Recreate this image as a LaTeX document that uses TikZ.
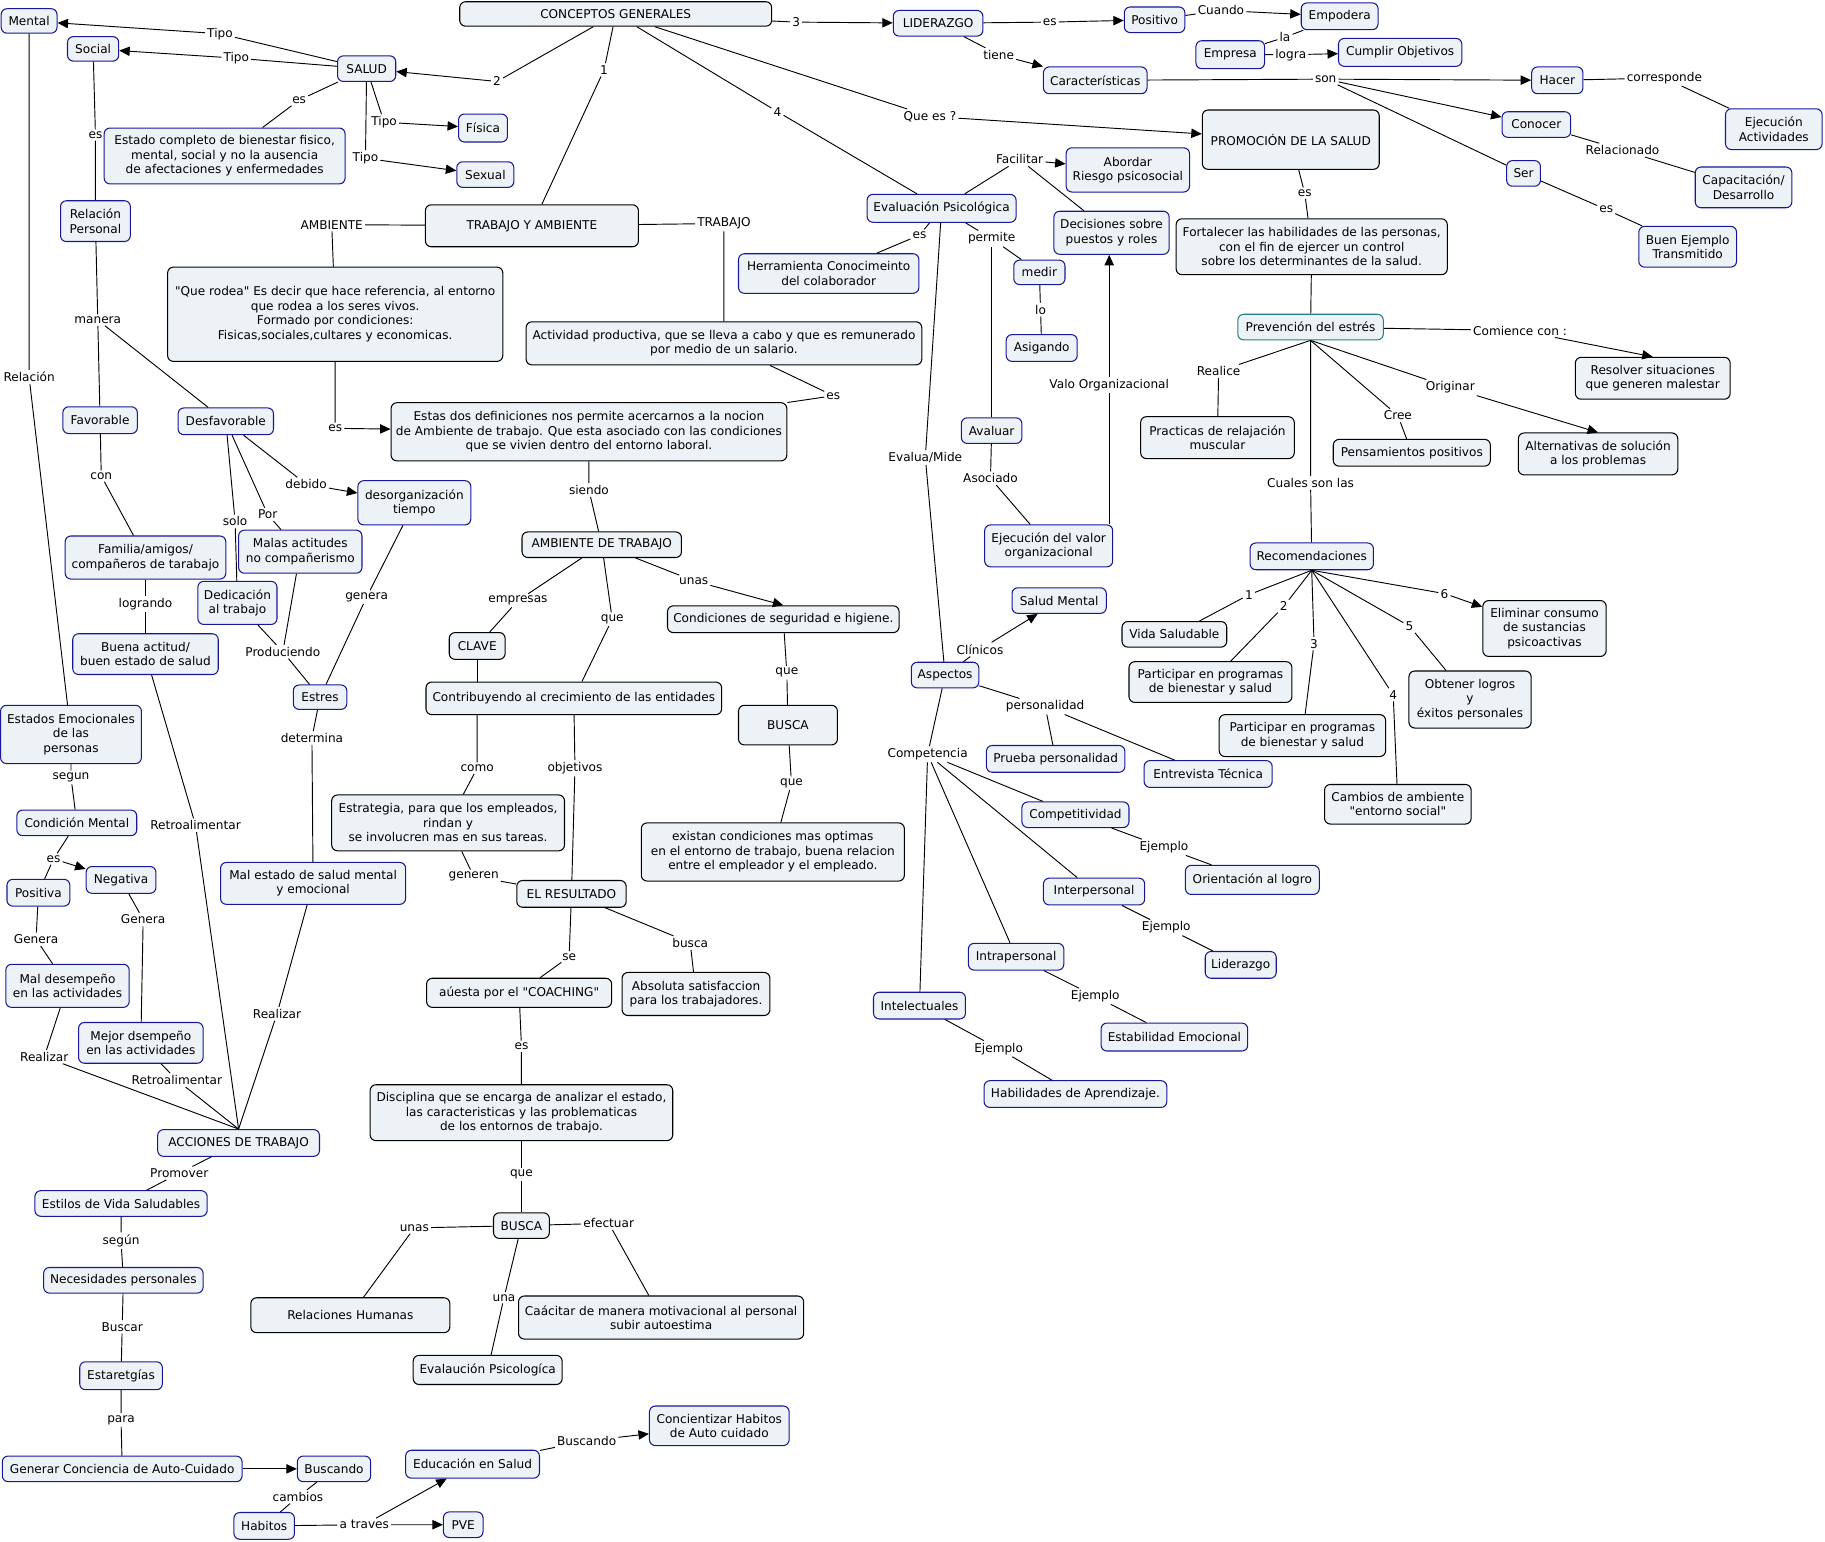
\documentclass[tikz,border=0pt]{standalone}
\usepackage{fontspec}
\setmainfont{DejaVu Sans}[Ligatures=TeXOff]
\usetikzlibrary{arrows.meta}
\definecolor{cmapfill}{RGB}{236,242,246}
\definecolor{cmapblue}{RGB}{24,24,150}
\definecolor{cmapteal}{RGB}{38,128,128}
\begin{document}
\begin{tikzpicture}[x=1pt,y=-1pt,>={Triangle[length=9pt,width=8pt]},line width=0.8pt,
font=\fontsize{10.4}{12.4}\selectfont,
cb/.style={draw=cmapblue,fill=cmapfill,rounded corners=5pt,line width=0.9pt,align=center,inner xsep=3pt,inner ysep=2pt},
ck/.style={cb,draw=black},
ct/.style={cb,draw=cmapteal},
lk/.style={inner sep=1.5pt},
sz/.style 2 args={minimum width=#1pt,minimum height=#2pt}]
\useasboundingbox (0,0) rectangle (1568,1324);
\node[cb,sz={48}{21}] (mental) at (25,18) {Mental};
\node[cb,sz={44}{21}] (social) at (80,42) {Social};
\node[cb,sz={50}{22}] (salud) at (315,59) {SALUD};
\node[cb,sz={207}{48}] (estado) at (193,134) {Estado completo de bienestar fisico,\\mental, social y no la ausencia\\de afectaciones y enfermedades};
\node[cb,sz={42}{24}] (fisica) at (415,110) {Física};
\node[cb,sz={49}{22}] (sexual) at (417,150) {Sexual};
\node[ck,sz={268}{21}] (concgen) at (529,12) {CONCEPTOS GENERALES};
\node[cb,sz={77}{22}] (liderazgo) at (806,20) {LIDERAZGO};
\node[cb,sz={52}{22}] (positivo) at (992,17) {Positivo};
\node[cb,sz={66}{23}] (empodera) at (1151,14) {Empodera};
\node[cb,sz={59}{24}] (empresa) at (1057,47) {Empresa};
\node[cb,sz={106}{24}] (cumplir) at (1203,45) {Cumplir Objetivos};
\node[cb,sz={89}{23}] (caract) at (941,69) {Características};
\node[cb,sz={44}{23}] (hacer) at (1338,69) {Hacer};
\node[cb,sz={83}{35}] (ejecact) at (1524,111) {Ejecución\\Actividades};
\node[cb,sz={59}{22}] (conocer) at (1320,107) {Conocer};
\node[cb,sz={83}{35}] (capac) at (1498,161) {Capacitación/\\Desarrollo};
\node[cb,sz={29}{22}] (ser) at (1309,149) {Ser};
\node[cb,sz={84}{35}] (buenej) at (1450,212) {Buen Ejemplo\\Transmitido};
\node[ck,sz={152}{51}] (promo) at (1109,120) {PROMOCIÓN DE LA SALUD};
\node[ck,sz={233}{48}] (fortal) at (1127,212) {Fortalecer las habilidades de las personas,\\con el fin de ejercer un control\\sobre los determinantes de la salud.};
\node[ct,sz={125}{22}] (prevest) at (1126,281) {Prevención del estrés};
\node[ck,sz={133}{36}] (resolver) at (1420,325) {Resolver situaciones\\que generen malestar};
\node[ck,sz={132}{36}] (practicas) at (1046,376) {Practicas de relajación\\muscular};
\node[ck,sz={135}{23}] (pensam) at (1213,389) {Pensamientos positivos};
\node[ck,sz={137}{36}] (altern) at (1373,390) {Alternativas de solución\\a los problemas};
\node[cb,sz={106}{23}] (recom) at (1127,478) {Recomendaciones};
\node[ck,sz={90}{22}] (vida) at (1009,545) {Vida Saludable};
\node[ck,sz={140}{35}] (parta) at (1040,586) {Participar en programas\\de bienestar y salud};
\node[ck,sz={143}{36}] (partb) at (1119,632) {Participar en programas\\de bienestar y salud};
\node[ck,sz={126}{34}] (cambios) at (1201,691) {Cambios de ambiente\\"entorno social"};
\node[ck,sz={105}{49}] (obtener) at (1263,601) {Obtener logros\\y\\éxitos personales};
\node[ck,sz={106}{48}] (eliminar) at (1327,540) {Eliminar consumo\\de sustancias\\psicoactivas};
\node[cb,sz={106}{38}] (abordar) at (969,146) {Abordar\\Riesgo psicosocial};
\node[cb,sz={99}{37}] (decis) at (955,200) {Decisiones sobre\\puestos y roles};
\node[cb,sz={128}{24}] (evalps) at (809,179) {Evaluación Psicológica};
\node[cb,sz={155}{34}] (herram) at (712,235) {Herramienta Conocimeinto\\del colaborador};
\node[cb,sz={44}{21}] (medir) at (893,234) {medir};
\node[cb,sz={61}{23}] (asigando) at (895,299) {Asigando};
\node[cb,sz={52}{22}] (avaluar) at (852,370) {Avaluar};
\node[cb,sz={110}{36}] (ejecvalor) at (901,469) {Ejecución del valor\\organizacional};
\node[cb,sz={81}{22}] (saludm) at (910,516) {Salud Mental};
\node[cb,sz={58}{22}] (aspectos) at (812,580) {Aspectos};
\node[cb,sz={119}{23}] (prueba) at (907,652) {Prueba personalidad};
\node[cb,sz={110}{23}] (entrev) at (1038,665) {Entrevista Técnica};
\node[cb,sz={92}{22}] (compet) at (924,700) {Competitividad};
\node[cb,sz={115}{25}] (orient) at (1076,756) {Orientación al logro};
\node[cb,sz={87}{23}] (interp) at (940,766) {Interpersonal};
\node[cb,sz={61}{23}] (liderazgob) at (1066,829) {Liderazgo};
\node[cb,sz={82}{23}] (intrap) at (873,822) {Intrapersonal};
\node[cb,sz={126}{24}] (estab) at (1009,891) {Estabilidad Emocional};
\node[cb,sz={79}{23}] (intelec) at (790,864) {Intelectuales};
\node[cb,sz={157}{23}] (habil) at (924,940) {Habilidades de Aprendizaje.};
\node[ck,sz={183}{36}] (trabamb) at (457,194) {TRABAJO Y AMBIENTE};
\node[ck,sz={288}{81}] (querodea) at (288,270) {"Que rodea" Es decir que hace referencia, al entorno\\que rodea a los seres vivos.\\Formado por condiciones:\\Fisicas,sociales,cultares y economicas.};
\node[ck,sz={340}{37}] (actividad) at (622,295) {Actividad productiva, que se lleva a cabo y que es remunerado\\por medio de un salario.};
\node[ck,sz={340}{50}] (estasdos) at (506,371) {Estas dos definiciones nos permite acercarnos a la nocion\\de Ambiente de trabajo. Que esta asociado con las condiciones\\que se vivien dentro del entorno laboral.};
\node[ck,sz={137}{22}] (ambtrab) at (517,468) {AMBIENTE DE TRABAJO};
\node[ck,sz={199}{23}] (condic) at (673,532) {Condiciones de seguridad e higiene.};
\node[ck,sz={48}{23}] (clave) at (410,555) {CLAVE};
\node[ck,sz={254}{28}] (contrib) at (493,600) {Contribuyendo al crecimiento de las entidades};
\node[ck,sz={85}{34}] (buscaa) at (677,623) {BUSCA};
\node[ck,sz={226}{50}] (existan) at (664,732) {existan condiciones mas optimas\\en el entorno de trabajo, buena relacion\\entre el empleador y el empleado.};
\node[ck,sz={200}{48}] (estrat) at (385,707) {Estrategia, para que los empleados,\\rindan y\\se involucren mas en sus tareas.};
\node[ck,sz={94}{23}] (resultado) at (491,768) {EL RESULTADO};
\node[ck,sz={127}{37}] (absoluta) at (598,854) {Absoluta satisfaccion\\para los trabajadores.};
\node[ck,sz={159}{25}] (coaching) at (446,853) {aúesta por el "COACHING"};
\node[ck,sz={260}{48}] (disciplina) at (448,956) {Disciplina que se encarga de analizar el estado,\\las caracteristicas y las problematicas\\de los entornos de trabajo.};
\node[ck,sz={48}{22}] (buscab) at (448,1053) {BUSCA};
\node[ck,sz={171}{30}] (relhum) at (301,1130) {Relaciones Humanas};
\node[ck,sz={245}{37}] (capacitar) at (568,1132) {Caácitar de manera motivacional al personal\\subir autoestima};
\node[ck,sz={128}{25}] (evalpsb) at (419,1177) {Evalaución Psicologíca};
\node[cb,sz={60}{35}] (relpers) at (82,190) {Relación\\Personal};
\node[cb,sz={64}{23}] (favorable) at (86,361) {Favorable};
\node[cb,sz={82}{23}] (desfav) at (194,362) {Desfavorable};
\node[cb,sz={97}{38}] (desorg) at (356,432) {desorganización\\tiempo};
\node[cb,sz={138}{37}] (familia) at (125,479) {Familia/amigos/\\compañeros de tarabajo};
\node[cb,sz={106}{37}] (malas) at (258,474) {Malas actitudes\\no compañerismo};
\node[cb,sz={68}{37}] (dedic) at (204,518) {Dedicación\\al trabajo};
\node[cb,sz={125}{35}] (buenact) at (125,562) {Buena actitud/\\buen estado de salud};
\node[cb,sz={46}{21}] (estres) at (275,599) {Estres};
\node[cb,sz={121}{50}] (estados) at (61,631) {Estados Emocionales\\de las\\personas};
\node[cb,sz={103}{22}] (condmental) at (66,707) {Condición Mental};
\node[cb,sz={60}{23}] (negativa) at (104,756) {Negativa};
\node[cb,sz={54}{23}] (positiva) at (33,767) {Positiva};
\node[cb,sz={106}{37}] (maldesemp) at (58,847) {Mal desempeño\\en las actividades};
\node[cb,sz={107}{35}] (mejor) at (121,896) {Mejor dsempeño\\en las actividades};
\node[cb,sz={159}{36}] (malestado) at (269,759) {Mal estado de salud mental\\y emocional};
\node[cb,sz={139}{23}] (acciones) at (205,982) {ACCIONES DE TRABAJO};
\node[cb,sz={148}{22}] (estilos) at (104,1034) {Estilos de Vida Saludables};
\node[cb,sz={137}{22}] (necesid) at (106,1100) {Necesidades personales};
\node[cb,sz={71}{24}] (estrateg) at (104,1182) {Estaretgías};
\node[cb,sz={206}{22}] (generar) at (105,1262) {Generar Conciencia de Auto-Cuidado};
\node[cb,sz={63}{22}] (buscando) at (287,1262) {Buscando};
\node[cb,sz={52}{23}] (habitos) at (227,1311) {Habitos};
\node[cb,sz={34}{22}] (pve) at (398,1310) {PVE};
\node[cb,sz={115}{24}] (educ) at (406,1258) {Educación en Salud};
\node[cb,sz={120}{34}] (concient) at (618,1225) {Concientizar Habitos\\de Auto cuidado};
\node[lk] (ltipo1) at (189,29) {Tipo};
\node[lk] (ltipo2) at (203,50) {Tipo};
\node[lk] (les1) at (257,86) {es};
\node[lk] (ltipo3) at (330,105) {Tipo};
\node[lk] (ltipo4) at (314,136) {Tipo};
\node[lk] (ltwo) at (427,70) {2};
\node[lk] (lone) at (519,60) {1};
\node[lk] (lthree) at (684,19) {3};
\node[lk] (lfour) at (668,96) {4};
\node[lk] (lquees) at (799,100) {Que es ?};
\node[lk] (les2) at (902,19) {es};
\node[lk] (ltiene) at (858,47) {tiene};
\node[lk] (lcuando) at (1049,9) {Cuando};
\node[lk] (lla) at (1104,32) {la};
\node[lk] (llogra) at (1109,47) {logra};
\node[lk] (lson) at (1139,68) {son};
\node[lk] (lcorresp) at (1430,67) {corresponde};
\node[lk] (lrelac) at (1394,129) {Relacionado};
\node[lk] (les3) at (1380,180) {es};
\node[lk] (les4) at (1121,166) {es};
\node[lk] (lcomience) at (1306,284) {Comience con :};
\node[lk] (lrealice) at (1047,319) {Realice};
\node[lk] (lcree) at (1201,357) {Cree};
\node[lk] (loriginar) at (1246,333) {Originar};
\node[lk] (lcuales) at (1126,415) {Cuales son las};
\node[lk] (lra) at (1073,511) {1};
\node[lk] (lrb) at (1103,521) {2};
\node[lk] (lrc) at (1129,553) {3};
\node[lk] (lrd) at (1197,597) {4};
\node[lk] (lre) at (1211,538) {5};
\node[lk] (lrf) at (1241,510) {6};
\node[lk] (lfacil) at (876,137) {Facilitar};
\node[lk] (les5) at (790,202) {es};
\node[lk] (lpermite) at (852,205) {permite};
\node[lk] (llo) at (894,266) {lo};
\node[lk] (lvalo) at (953,331) {Valo Organizacional};
\node[lk] (lasoc) at (851,411) {Asociado};
\node[lk] (levalua) at (795,393) {Evalua/Mide};
\node[lk] (lclin) at (842,558) {Clínicos};
\node[lk] (lperso) at (898,607) {personalidad};
\node[lk] (lcompet) at (797,648) {Competencia};
\node[lk] (leja) at (1000,728) {Ejemplo};
\node[lk] (lejb) at (1002,797) {Ejemplo};
\node[lk] (lejc) at (941,856) {Ejemplo};
\node[lk] (lejd) at (858,901) {Ejemplo};
\node[lk] (lamb) at (285,193) {AMBIENTE};
\node[lk] (ltrab) at (622,192) {TRABAJO};
\node[lk] (les6) at (288,368) {es};
\node[lk] (les7) at (716,340) {es};
\node[lk] (lsiendo) at (506,421) {siendo};
\node[lk] (lempresas) at (445,516) {empresas};
\node[lk] (lquea) at (526,532) {que};
\node[lk] (lunasa) at (596,499) {unas};
\node[lk] (lqueb) at (676,578) {que};
\node[lk] (lquec) at (680,673) {que};
\node[lk] (lcomo) at (410,660) {como};
\node[lk] (lobjet) at (494,660) {objetivos};
\node[lk] (lgeneren) at (407,753) {generen};
\node[lk] (lse) at (489,822) {se};
\node[lk] (lbusca) at (593,810) {busca};
\node[lk] (les8) at (448,899) {es};
\node[lk] (lqued) at (448,1009) {que};
\node[lk] (lunasb) at (356,1055) {unas};
\node[lk] (luna) at (433,1115) {una};
\node[lk] (lefect) at (523,1051) {efectuar};
\node[lk] (les9) at (82,116) {es};
\node[lk] (lmanera) at (84,275) {manera};
\node[lk] (lrelacion) at (25,324) {Relación};
\node[lk] (lcon) at (87,409) {con};
\node[lk] (llogrando) at (125,519) {logrando};
\node[lk] (lsolo) at (202,448) {solo};
\node[lk] (lpor) at (230,442) {Por};
\node[lk] (ldebido) at (263,416) {debido};
\node[lk] (lproduc) at (243,560) {Produciendo};
\node[lk] (lgeneraa) at (315,513) {genera};
\node[lk] (ldetermina) at (268,634) {determina};
\node[lk] (lrealizara) at (238,871) {Realizar};
\node[lk] (lretroa) at (168,709) {Retroalimentar};
\node[lk] (lsegun) at (61,668) {segun};
\node[lk] (les10) at (46,738) {es};
\node[lk] (lgenerab) at (31,807) {Genera};
\node[lk] (lgenerac) at (123,790) {Genera};
\node[lk] (lrealizarb) at (38,908) {Realizar};
\node[lk] (lretrob) at (152,928) {Retroalimentar};
\node[lk] (lpromover) at (154,1008) {Promover};
\node[lk] (lsegunb) at (104,1066) {según};
\node[lk] (lbuscar) at (105,1140) {Buscar};
\node[lk] (lpara) at (104,1220) {para};
\node[lk] (lcambios) at (256,1286) {cambios};
\node[lk] (latraves) at (313,1310) {a traves};
\node[lk] (lbuscando) at (504,1238) {Buscando};
\draw[->] (salud) -- (ltipo1) -- (mental);
\draw[->] (salud) -- (ltipo2) -- (social);
\draw (salud) -- (les1) -- (estado);
\draw[->] (salud) -- (ltipo3) -- (fisica);
\draw[->] (salud) -- (ltipo4) -- (sexual);
\draw[->] (concgen) -- (ltwo) -- (salud);
\draw (concgen) -- (lone) -- (trabamb);
\draw[->] (concgen) -- (lthree) -- (liderazgo);
\draw (concgen) -- (lfour) -- (evalps);
\draw[->] (concgen) -- (lquees) -- (promo);
\draw[->] (liderazgo) -- (les2) -- (positivo);
\draw[->] (liderazgo) -- (ltiene) -- (caract);
\draw[->] (positivo) -- (lcuando) -- (empodera);
\draw (empresa) -- (lla) -- (empodera);
\draw[->] (empresa) -- (llogra) -- (cumplir);
\draw[->] (caract) -- (lson) -- (hacer);
\draw[->] (lson) -- (conocer);
\draw (lson) -- (ser);
\draw (hacer) -- (lcorresp) -- (ejecact);
\draw (conocer) -- (lrelac) -- (capac);
\draw (ser) -- (les3) -- (buenej);
\draw (promo) -- (les4) -- (fortal);
\draw (fortal) -- (prevest);
\draw[->] (prevest) -- (lcomience) -- (resolver.north);
\draw (prevest.south) -- (lrealice) -- (practicas);
\draw (prevest.south) -- (lcree) -- (pensam);
\draw[->] (prevest.south) -- (loriginar) -- (altern.north);
\draw (prevest.south) -- (lcuales) -- (recom);
\draw (recom.south) -- (lra) -- (vida);
\draw (recom.south) -- (lrb) -- (parta);
\draw (recom.south) -- (lrc) -- (partb);
\draw (recom.south) -- (lrd) -- (cambios);
\draw (recom.south) -- (lre) -- (obtener);
\draw[->] (recom.south) -- (lrf) -- (eliminar);
\draw[->] (evalps) -- (lfacil) -- (abordar);
\draw (lfacil) -- (decis);
\draw (evalps) -- (les5) -- (herram);
\draw (evalps) -- (lpermite) -- (medir);
\draw (lpermite) -- (avaluar);
\draw (medir) -- (llo) -- (asigando);
\draw (avaluar) -- (lasoc) -- (ejecvalor);
\draw (ejecvalor.north -| lvalo) -- (lvalo);
\draw[->] (lvalo) -- (decis.south -| lvalo);
\draw (evalps) -- (levalua) -- (aspectos);
\draw[->] (aspectos) -- (lclin) -- (saludm);
\draw (aspectos) -- (lperso) -- (prueba);
\draw (lperso) -- (entrev);
\draw (aspectos) -- (lcompet) -- (compet);
\draw (lcompet) -- (interp);
\draw (lcompet) -- (intrap);
\draw (lcompet) -- (intelec);
\draw (compet) -- (leja) -- (orient);
\draw (interp) -- (lejb) -- (liderazgob);
\draw (intrap) -- (lejc) -- (estab);
\draw (intelec) -- (lejd) -- (habil);
\draw (trabamb) -- (lamb) -- (querodea);
\draw (trabamb) -- (ltrab) -- (actividad);
\draw[->] (querodea) -- (les6) -- (estasdos);
\draw (actividad) -- (les7) -- (estasdos);
\draw (estasdos) -- (lsiendo) -- (ambtrab);
\draw (ambtrab) -- (lempresas) -- (clave);
\draw (ambtrab) -- (lquea) -- (contrib);
\draw[->] (ambtrab) -- (lunasa) -- (condic.north);
\draw (clave) -- (clave |- contrib.north);
\draw (contrib.south -| lcomo) -- (lcomo) -- (estrat);
\draw (contrib) -- (lobjet) -- (resultado);
\draw (estrat) -- (lgeneren) -- (resultado);
\draw (condic) -- (lqueb) -- (buscaa);
\draw (buscaa) -- (lquec) -- (existan);
\draw (resultado) -- (lse) -- (coaching);
\draw (resultado) -- (lbusca) -- (absoluta);
\draw (coaching) -- (les8) -- (disciplina);
\draw (disciplina) -- (lqued) -- (buscab);
\draw (buscab) -- (lunasb) -- (relhum);
\draw (buscab) -- (luna) -- (evalpsb);
\draw (buscab) -- (lefect) -- (capacitar);
\draw (social) -- (les9) -- (relpers);
\draw (relpers) -- (lmanera) -- (favorable);
\draw (lmanera) -- (desfav);
\draw (mental) -- (lrelacion) -- (estados);
\draw (favorable) -- (lcon) -- (familia);
\draw (familia) -- (llogrando) -- (buenact);
\draw (desfav) -- (lsolo) -- (dedic);
\draw (desfav) -- (lpor) -- (malas);
\draw[->] (desfav) -- (ldebido) -- (desorg);
\draw (dedic) -- (lproduc) -- (estres);
\draw (malas) -- (lproduc);
\draw (desorg) -- (lgeneraa) -- (estres);
\draw (estres) -- (ldetermina) -- (malestado);
\draw (malestado) -- (lrealizara) -- (acciones.north);
\draw (buenact) -- (lretroa) -- (acciones.north);
\draw (estados) -- (lsegun) -- (condmental);
\draw[->] (condmental) -- (les10) -- (negativa);
\draw (les10) -- (positiva);
\draw (positiva) -- (lgenerab) -- (maldesemp);
\draw (negativa) -- (lgenerac) -- (mejor);
\draw (maldesemp) -- (lrealizarb) -- (acciones.north);
\draw (mejor) -- (lretrob) -- (acciones.north);
\draw (acciones) -- (lpromover) -- (estilos);
\draw (estilos) -- (lsegunb) -- (necesid);
\draw (necesid) -- (lbuscar) -- (estrateg);
\draw (estrateg) -- (lpara) -- (generar);
\draw[->] (generar) -- (buscando);
\draw (buscando) -- (lcambios) -- (habitos);
\draw[->] (habitos) -- (latraves) -- (pve);
\draw[->] (latraves) -- (educ);
\draw[->] (educ) -- (lbuscando) -- (concient);
\end{tikzpicture}
\end{document}
